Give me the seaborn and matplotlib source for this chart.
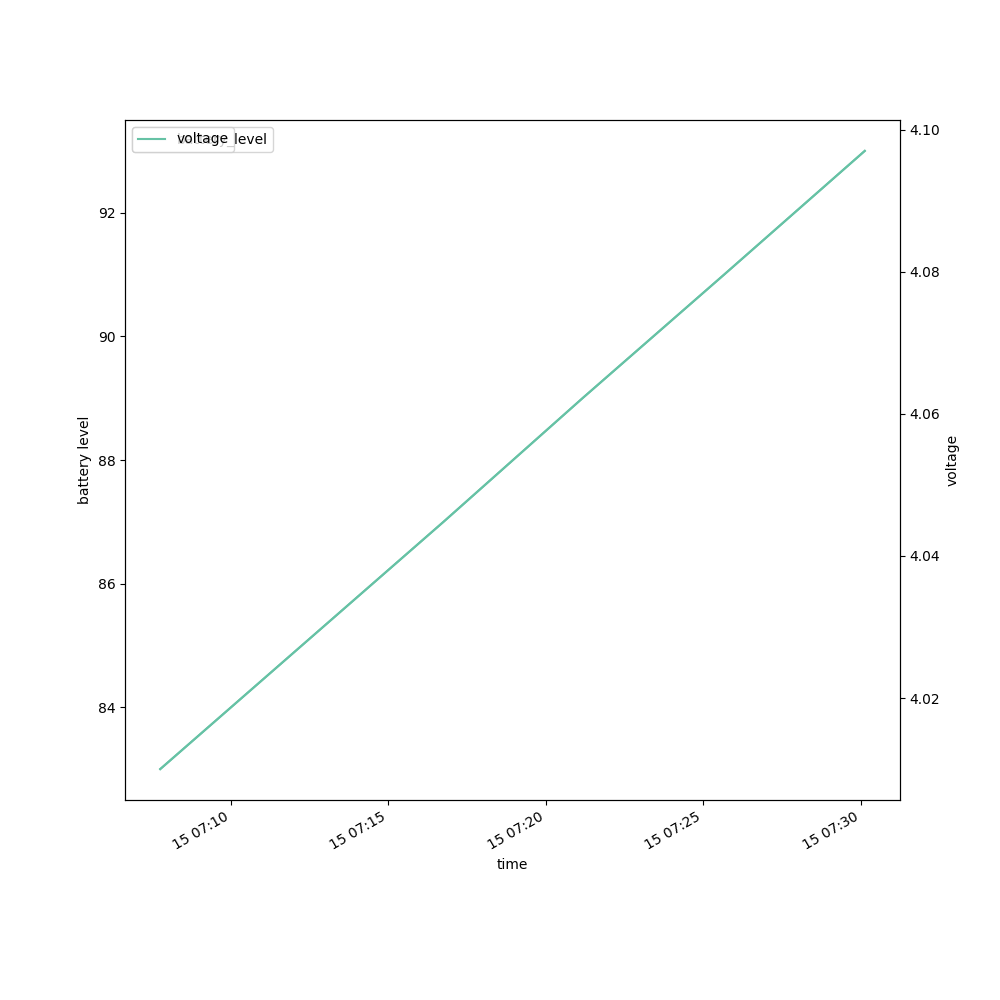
import pandas as pd
import numpy as np
import matplotlib.pyplot as plt
import seaborn as sns

sns.set_palette("Set2")

# Data
times = ["2024-01-15 07:07:45", "2024-01-15 07:12:15", "2024-01-15 07:16:45",
         "2024-01-15 07:21:10", "2024-01-15 07:25:40", "2024-01-15 07:30:08"]
battery_level = [83, 85, 87, 89, 91, 93]
voltage = [4.010, 4.0274, 4.0448, 4.0622, 4.0796, 4.097]

df = pd.DataFrame({
    'time': pd.to_datetime(times),
    'battery_level': battery_level,
    'voltage': voltage,
})

fig, ax = plt.subplots(figsize=(10, 10), dpi=100)
sns.lineplot(data=df, x='time', y='battery_level', ax=ax, label='battery_level')
ax.set_ylabel('battery level')
ax.legend(loc='upper left')

ax2 = ax.twinx()
sns.lineplot(data=df, x='time', y='voltage', ax=ax2, label='voltage')
ax2.set_ylabel('voltage')
ax2.legend(loc='upper left')

fig.autofmt_xdate()
plt.savefig('out.png', dpi=100)
